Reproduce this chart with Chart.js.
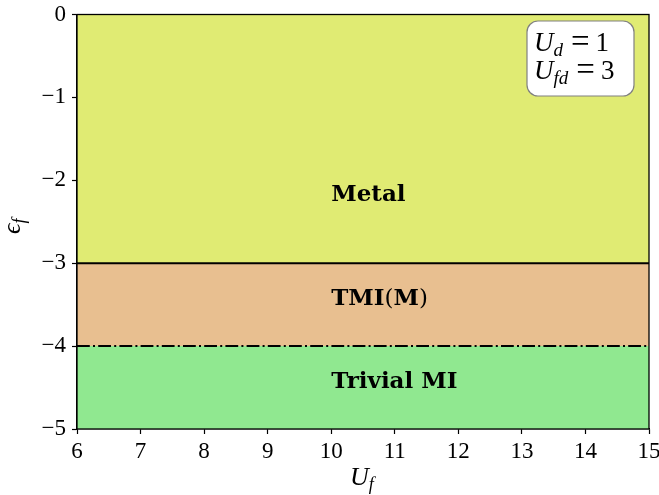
<!DOCTYPE html>
<html>
<head>
<meta charset="utf-8">
<script src="https://cdn.jsdelivr.net/npm/chart.js@4/dist/chart.umd.min.js"></script>
<style>
  html, body { margin: 0; padding: 0; background: #ffffff; }
  #wrap { width: 659px; height: 495px; position: relative; }
</style>
</head>
<body>
<div id="wrap"><canvas id="phase"></canvas></div>
<script>
// Phase diagram in the (U_f, eps_f) plane at fixed U_d and U_fd
const uRange = [6, 15];                       // U_f extent
const boundaries = [0, -3, -4, -5];           // eps_f phase boundaries, top to bottom
const phaseNames = ['Metal', 'TMI(M)', 'Trivial MI'];
const phaseColors = ['#e0eb73', '#e8bf90', '#90e890'];
const labelX = [10, 10, 10];                  // label anchor (U_f)
const labelY = [-2.25, -3.5, -4.5];           // label baseline (eps_f)
const xTicks = [6, 7, 8, 9, 10, 11, 12, 13, 14, 15];
const yTicks = [0, -1, -2, -3, -4, -5];
const params = [['U', 'd', '1'], ['U', 'fd', '3']];

const SERIF = '"Liberation Serif", "DejaVu Serif", serif';
const WIDE_SERIF = '"DejaVu Serif", "Liberation Serif", serif';

function bandData(y) {
  return uRange.map(x => ({ x: x, y: y }));
}

const datasets = phaseNames.map((name, i) => ({
  label: name,
  data: bandData(boundaries[i]),
  fill: { value: boundaries[i + 1] },
  backgroundColor: phaseColors[i],
  borderColor: i === 0 ? 'rgba(0,0,0,0)' : '#000000',
  borderWidth: i === 0 ? 0 : 2,
  borderDash: i === 2 ? [12.8, 3.2, 2, 3.2] : [],
  pointRadius: 0,
  tension: 0
}));

function minusFmt(v) {
  return v < 0 ? '\u2212' + Math.abs(v) : String(v);
}

// draws a symbol with an italic subscript; returns the advance width
function symSub(ctx, sym, sub, x, y, size, subSize, drop) {
  ctx.font = 'italic ' + size + 'px ' + SERIF;
  ctx.fillText(sym, x, y);
  const w = ctx.measureText(sym).width;
  ctx.font = 'italic ' + subSize + 'px ' + SERIF;
  ctx.fillText(sub, x + w, y + drop);
  return w + ctx.measureText(sub).width;
}

const decor = {
  id: 'decor',
  afterDatasetsDraw(chart) {
    const ctx = chart.ctx;
    const xs = chart.scales.x, ys = chart.scales.y;

    // phase labels
    ctx.save();
    ctx.fillStyle = '#000';
    ctx.textBaseline = 'alphabetic';
    ctx.textAlign = 'left';
    phaseNames.forEach((name, i) => {
      let px = xs.getPixelForValue(labelX[i]);
      const py = ys.getPixelForValue(labelY[i]);
      const parts = name === 'TMI(M)'
        ? [['TMI', 'bold'], ['(', 'normal'], ['M', 'bold'], [')', 'normal']]
        : [[name, 'bold']];
      parts.forEach(([t, w]) => {
        ctx.font = w + ' 23px ' + WIDE_SERIF;
        ctx.fillText(t, px, py);
        px += ctx.measureText(t).width;
      });
    });
    ctx.restore();
  },
  afterDraw(chart) {
    const ctx = chart.ctx;
    const a = chart.chartArea;

    // frame
    ctx.save();
    ctx.strokeStyle = '#000';
    ctx.lineWidth = 1.3;
    ctx.strokeRect(a.left, a.top, a.right - a.left, a.bottom - a.top);
    ctx.restore();

    // axis titles
    ctx.save();
    ctx.fillStyle = '#000';
    ctx.textBaseline = 'alphabetic';
    ctx.textAlign = 'left';
    symSub(ctx, 'U', 'f', 350, 485, 26, 18, 5);

    ctx.translate(20, 224);
    ctx.rotate(-Math.PI / 2);
    symSub(ctx, '\u03f5', 'f', -10, 0, 26, 18, 5);
    ctx.restore();

    // parameter box
    ctx.save();
    const bx = 527, by = 21, bw = 107, bh = 75, r = 11;
    ctx.beginPath();
    ctx.roundRect(bx, by, bw, bh, r);
    ctx.fillStyle = '#ffffff';
    ctx.fill();
    ctx.strokeStyle = '#808080';
    ctx.lineWidth = 1.2;
    ctx.stroke();
    ctx.fillStyle = '#000';
    params.forEach((p, i) => {
      const base = 51 + i * 28;
      let px = 534;
      px += symSub(ctx, p[0], p[1], px, base, 27, 19, 5);
      px += 8;
      ctx.font = '33px ' + SERIF;
      ctx.fillText('=', px, base + 1);
      px += ctx.measureText('=').width + 6;
      ctx.font = '27px ' + SERIF;
      ctx.fillText(p[2], px, base);
    });
    ctx.restore();
  }
};

new Chart(document.getElementById('phase'), {
  type: 'line',
  data: { datasets: datasets },
  options: {
    responsive: true,
    maintainAspectRatio: false,
    animation: false,
    layout: { padding: { top: 14.5, right: 10, left: 0, bottom: 0 } },
    plugins: {
      legend: { display: false },
      tooltip: { enabled: false },
      filler: { drawTime: 'beforeDatasetsDraw' }
    },
    scales: {
      x: {
        type: 'linear',
        min: uRange[0],
        max: uRange[1],
        afterFit(s) { s.height = 66; s.paddingLeft = 0; s.paddingRight = 0; },
        afterBuildTicks(s) { s.ticks = xTicks.map(v => ({ value: v })); },
        grid: { drawOnChartArea: false, drawTicks: true, tickLength: 5, color: '#000', tickWidth: 1.2 },
        border: { display: true, color: '#000', width: 1.3 },
        ticks: {
          color: '#000',
          padding: 4,
          font: { family: SERIF, size: 23 },
          maxRotation: 0,
          callback: v => minusFmt(v)
        }
      },
      y: {
        type: 'linear',
        min: boundaries[boundaries.length - 1],
        max: boundaries[0],
        afterFit(s) { s.width = 77; s.paddingTop = 0; s.paddingBottom = 0; },
        afterBuildTicks(s) { s.ticks = yTicks.map(v => ({ value: v })); },
        grid: { drawOnChartArea: false, drawTicks: true, tickLength: 5, color: '#000', tickWidth: 1.2 },
        border: { display: true, color: '#000', width: 1.3 },
        ticks: {
          color: '#000',
          padding: 6,
          font: { family: SERIF, size: 23 },
          callback: v => minusFmt(v)
        }
      }
    }
  },
  plugins: [decor]
});
</script>
</body>
</html>
